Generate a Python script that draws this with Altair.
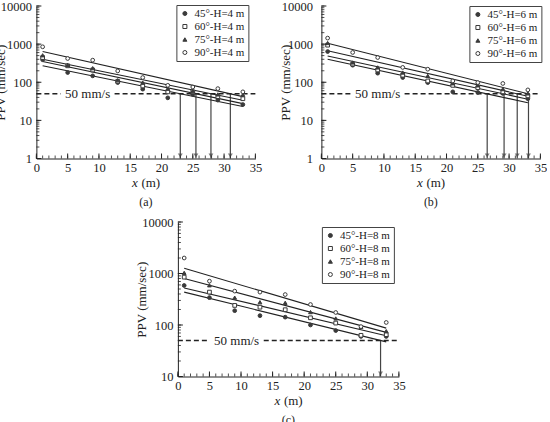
import altair as alt
import pandas as pd

FONT = "Liberation Serif"
INK = "#222"
MARK = "#3a3a3a"

# Distances along the bench face (m)
X_POS = [1, 5, 9, 13, 17, 21, 25, 29, 33]
ANGLES = ["45°", "60°", "75°", "90°"]

# Measured PPV (mm/sec), bench height H = 4 m
A_45 = [390, 180, 147, 98, 66, 39, 48, 34, 26]
A_60 = [445, 270, 210, 106, 80, 56, 56, 42, 37]
A_75 = [510, 285, 234, 113, 98, 68, 59, 48, 47]
A_90 = [850, 420, 380, 198, 133, 83, 75, 68, 56]
# Fitted lines: PPV at x = 1 m and x = 33 m
A_FIT_START = [270, 350, 400, 640]
A_FIT_END = [23, 27.5, 33.7, 42]
# Distance where each fit drops to 50 mm/s
A_LIMIT = [23.0, 25.5, 27.9, 31.0]

# H = 6 m
B_45 = [640, 280, 173, 133, 98, 56, 54, 51, 37]
B_60 = [940, 300, 210, 153, 108, 83, 72, 56, 44]
B_75 = [1070, 330, 245, 180, 147, 94, 83, 66, 51]
B_90 = [1440, 605, 445, 245, 220, 108, 98, 93, 63]
B_FIT_START = [400, 490, 670, 1050]
B_FIT_END = [29, 36, 43, 50]
B_LIMIT = [26.5, 29.2, 31.3, 33.1]

# H = 8 m
C_45 = [585, 340, 190, 152, 142, 100, 78, 60, 60]
C_60 = [850, 435, 240, 222, 198, 138, 109, 63, 65]
C_75 = [1030, 590, 340, 277, 270, 178, 134, 92, 76]
C_90 = [2000, 710, 455, 435, 390, 250, 175, 93, 112]
C_FIT_START = [435, 525, 800, 1270]
C_FIT_END = [47, 62, 72, 87]
C_LIMIT = [32.1]

THRESHOLD = 50
THRESHOLD_TEXT = "50 mm/s"
X_TICKS = [0, 5, 10, 15, 20, 25, 30, 35]
X_MINOR = list(range(0, 36))
Y_TITLE = "PPV (mm/sec)"


def log_ticks(lo_exp):
    minor = [m * 10 ** e for e in range(lo_exp, 4) for m in range(1, 10)] + [10000]
    major = [10 ** e for e in range(lo_exp, 5)]
    return minor, major


def panel(series, fit_start, fit_end, limits, h_label, tag, ymin_exp,
          w, h, label_pad, gap_center, legend_xy):
    labels = [f"{a}-H={h_label} m" for a in ANGLES]
    ymin = 10 ** ymin_exp
    pts = pd.DataFrame(
        [{"x": x, "v": v, "s": labels[i]} for i, vals in enumerate(series)
         for x, v in zip(X_POS, vals)]
    )
    fits = pd.DataFrame(
        [{"x": X_POS[0], "v": fit_start[i], "s": labels[i]} for i in range(4)]
        + [{"x": X_POS[-1], "v": fit_end[i], "s": labels[i]} for i in range(4)]
    )
    arrows = pd.DataFrame({"x": limits, "top": THRESHOLD, "bot": ymin})
    dash = pd.DataFrame({"x": [0, gap_center + 4.3], "x2": [gap_center - 4.3, 35],
                         "v": THRESHOLD})
    note = pd.DataFrame({"x": [gap_center], "v": [THRESHOLD], "t": [THRESHOLD_TEXT]})
    y_minor, y_major = log_ticks(ymin_exp)

    xs = alt.Scale(domain=[0, 35], nice=False, zero=False)
    ys = alt.Scale(type="log", domain=[ymin, 10000], nice=False)
    x_ax = alt.Axis(values=X_TICKS, ticks=False, grid=False, title=None,
                    labelFont=FONT, labelFontSize=12.5, labelColor=INK,
                    labelPadding=3, labelFlush=False, labelOverlap=False,
                    domainColor=INK, domainWidth=1)
    y_ax = alt.Axis(values=y_major, format="d", ticks=False, grid=False,
                    title=Y_TITLE, titleFont=FONT, titleFontSize=13,
                    titleFontWeight="normal", titleColor=INK, titleX=-36,
                    titleY=h / 2, titleBaseline="middle", titleAlign="center",
                    labelFont=FONT, labelFontSize=12.5, labelColor=INK,
                    labelPadding=label_pad, labelFlush=False, labelOverlap=False,
                    domainColor=INK, domainWidth=1)
    X = lambda f: alt.X(f, type="quantitative", scale=xs, axis=x_ax)
    Y = lambda f: alt.Y(f, type="quantitative", scale=ys, axis=y_ax)

    leg = alt.Legend(orient="none", legendX=legend_xy[0], legendY=legend_xy[1],
                     title=None, strokeColor="#444", fillColor="white",
                     padding=3, rowPadding=1, labelFont=FONT, labelFontSize=11,
                     labelColor=INK, symbolSize=16, symbolStrokeWidth=1,
                     labelOffset=4, cornerRadius=0)

    dashed = alt.Chart(dash).mark_rule(strokeDash=[5, 3], strokeWidth=1.5,
                                        color=INK).encode(
        x=X("x"), x2="x2", y=Y("v"))
    note_txt = alt.Chart(note).mark_text(font=FONT, fontSize=13, color=INK,
                                         baseline="middle").encode(
        x=X("x"), y=Y("v"), text="t:N")
    shafts = alt.Chart(arrows).mark_rule(color="#444", strokeWidth=1.2).encode(
        x=X("x"), y=Y("top"), y2="bot")
    heads = alt.Chart(arrows).mark_point(shape="triangle-down", filled=True,
                                         size=24, color="#444",
                                         yOffset=-3).encode(
        x=X("x"), y=Y("bot"))
    lines = alt.Chart(fits).mark_line(color=INK, strokeWidth=1.1).encode(
        x=X("x"), y=Y("v"), detail="s:N")
    points = alt.Chart(pts).mark_point(filled=True, strokeWidth=1, size=14,
                                       opacity=1).encode(
        x=X("x"), y=Y("v"),
        shape=alt.Shape("s:N", scale=alt.Scale(
            domain=labels, range=["circle", "square", "triangle-up", "circle"]),
            legend=leg),
        fill=alt.Fill("s:N", scale=alt.Scale(
            domain=labels, range=[MARK, "white", MARK, "white"]),
            legend=leg),
        stroke=alt.Stroke("s:N", scale=alt.Scale(
            domain=labels, range=[MARK, MARK, MARK, MARK]),
            legend=leg),
    )

    ytk_minor = alt.Chart(pd.DataFrame({"v": y_minor})).mark_rule(
        color=INK, strokeWidth=0.8).encode(
        y=Y("v"), x=alt.value(0), x2=alt.value(3))
    ytk_major = alt.Chart(pd.DataFrame({"v": y_major})).mark_rule(
        color=INK, strokeWidth=1).encode(
        y=Y("v"), x=alt.value(0), x2=alt.value(5))
    xtk_minor = alt.Chart(pd.DataFrame({"x": X_MINOR})).mark_rule(
        color=INK, strokeWidth=0.8).encode(
        x=X("x"), y=alt.value(h), y2=alt.value(h - 3))
    xtk_major = alt.Chart(pd.DataFrame({"x": X_TICKS})).mark_rule(
        color=INK, strokeWidth=1).encode(
        x=X("x"), y=alt.value(h), y2=alt.value(h - 5))

    one = pd.DataFrame({"a": ["x"], "b": ["(m)"], "c": [f"({tag})"]})
    cx = w / 2
    xt1 = alt.Chart(one).mark_text(font=FONT, fontSize=13, fontStyle="italic",
                                   color=INK, align="left",
                                   baseline="middle").encode(
        x=alt.value(cx - 14), y=alt.value(h + 24), text="a:N")
    xt2 = alt.Chart(one).mark_text(font=FONT, fontSize=13, color=INK,
                                   align="left", baseline="middle").encode(
        x=alt.value(cx - 4.5), y=alt.value(h + 24), text="b:N")
    sub = alt.Chart(one).mark_text(font=FONT, fontSize=12, color=INK,
                                   align="center", baseline="middle").encode(
        x=alt.value(cx), y=alt.value(h + 43), text="c:N")

    return alt.layer(
        dashed, note_txt, shafts, heads, lines, points,
        ytk_minor, ytk_major, xtk_minor, xtk_major, xt1, xt2, sub
    ).properties(width=w, height=h)


pa = panel([A_45, A_60, A_75, A_90], A_FIT_START, A_FIT_END, A_LIMIT, 4, "a",
           0, 219, 152.5, 5, 8.2, (140, -1))
pb = panel([B_45, B_60, B_75, B_90], B_FIT_START, B_FIT_END, B_LIMIT, 6, "b",
           0, 219, 152.5, 9, 9.0, (148, 0))
pc = panel([C_45, C_60, C_75, C_90], C_FIT_START, C_FIT_END, C_LIMIT, 8, "c",
           1, 221, 154.5, 5, 9.3, (144, 5))

independent = dict(x="independent", y="independent", shape="independent",
                   fill="independent", stroke="independent")
legends_apart = dict(shape="independent", fill="independent",
                     stroke="independent")

top_row = alt.hconcat(pa, pb, spacing=66, bounds="flush").resolve_scale(
    **independent).resolve_legend(**legends_apart)

chart = alt.vconcat(top_row, pc, spacing=8, center=True
                    ).resolve_scale(**independent).resolve_legend(
    **legends_apart
).properties(
    padding={"left": -6, "top": 0, "right": 0, "bottom": 0}
).configure_view(stroke=None)

chart.save("out.html", embed_options={"renderer": "svg", "actions": False})
